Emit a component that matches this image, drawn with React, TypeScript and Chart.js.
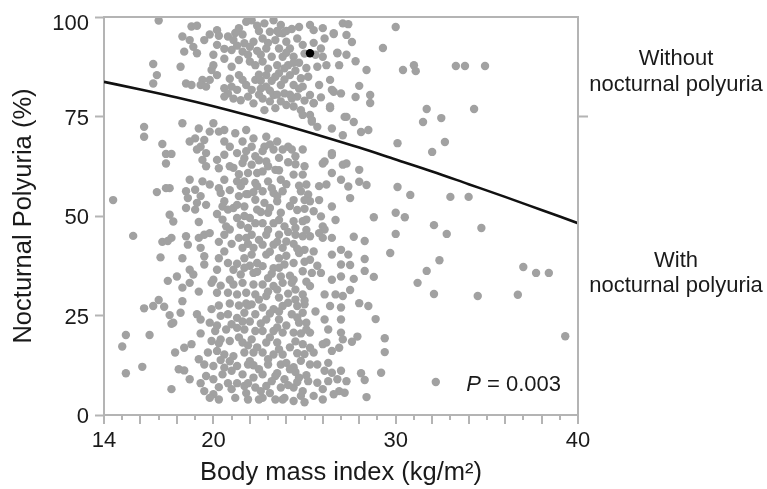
import React, { useEffect, useRef } from "react";
import { Chart, registerables } from "chart.js";

Chart.register(...registerables);

const FONT = "'Liberation Sans', Arial, Helvetica, sans-serif";
const AXIS_COLOR = "#b4b4b4";
const POINT_COLOR = "#a1a1a1";
const TEXT_COLOR = "#1a1a1a";

// Axis ticks
const xTickLabels = [14, 20, 30, 40];
const xMin = 14;
const xMax = 40;
const yTickValues = [0, 25, 50, 75, 100];

// Fitted curve
const curveBmi = [14, 16, 18, 20, 22, 24, 26, 28, 30, 32, 34, 36, 38, 40];
const curvePct = [83.7, 81.8, 79.8, 77.6, 75.2, 72.7, 70.0, 67.2, 64.2, 61.2, 58.0, 54.8, 51.5, 48.2];

// Highlighted (black) patient
const highlighted: [number, number][] = [[25.3, 90.9]];

// Patients: [BMI, nocturnal polyuria %]
const patientsLeft: [number, number][] = [
  [14.5, 54.0], [15.6, 45.0], [15.0, 17.2], [15.2, 20.1], [15.2, 10.5], [16.1, 12.1], [16.2, 26.8], [16.7, 27.4],
  [17.0, 28.9], [17.3, 27.2], [16.5, 20.1], [17.6, 50.3], [17.8, 48.6], [17.2, 43.5], [17.5, 43.7], [17.1, 39.6],
  [17.5, 33.7], [17.6, 25.1], [17.7, 22.9], [17.0, 99.1], [16.7, 88.2], [16.9, 85.4], [16.7, 83.3], [16.2, 72.4],
  [16.2, 69.9], [17.2, 68.1], [17.4, 65.6], [17.7, 65.6], [17.4, 63.2], [16.9, 56.0], [17.4, 57.0], [18.2, 87.5],
  [18.5, 83.3],
];

const patientsUpper: [number, number][] = [
  [18.8, 97.6], [19.1, 97.8], [18.3, 95.1], [18.7, 94.2], [18.9, 92.5], [18.4, 91.3], [19.1, 90.9], [19.5, 94.2],
  [19.8, 95.6], [20.2, 96.7], [20.3, 95.3], [20.2, 93.0], [20.8, 95.1], [21.0, 91.7], [21.1, 94.2], [21.4, 97.2],
  [21.6, 95.6], [21.8, 98.8], [22.1, 99.2], [21.7, 93.4], [22.0, 92.5], [22.2, 93.8], [21.6, 91.3], [21.9, 90.5],
  [21.4, 89.2], [22.0, 88.8], [22.3, 87.9], [20.0, 87.9], [19.9, 86.7], [20.2, 85.4], [19.8, 84.2], [19.4, 84.2],
  [18.8, 82.9], [19.3, 82.9], [19.6, 82.5], [20.6, 82.1], [20.8, 80.8], [20.6, 80.0], [21.4, 85.4], [21.6, 84.2],
  [21.8, 82.9], [21.3, 81.7], [21.9, 80.0], [21.5, 79.1], [21.1, 79.5], [22.1, 81.7], [22.3, 84.2], [22.2, 78.3],
  [22.8, 98.4], [23.3, 99.2], [23.7, 98.0], [23.1, 96.3], [23.8, 95.9], [22.7, 94.6], [23.4, 94.2], [24.0, 93.8],
  [22.9, 92.1], [23.6, 92.1], [24.2, 92.1], [23.2, 90.0], [23.8, 90.0], [22.7, 88.8], [23.5, 87.9], [24.1, 87.9],
  [24.6, 94.6], [24.9, 93.0], [25.3, 98.0], [25.5, 96.7], [26.0, 97.2], [26.1, 94.6], [25.9, 92.1], [25.6, 90.5],
  [26.0, 90.0], [26.2, 87.9], [25.7, 87.5], [26.6, 95.9], [26.8, 90.9], [26.9, 87.9], [27.1, 98.4], [27.3, 95.5],
  [22.9, 85.4], [23.6, 85.9], [24.2, 85.4], [24.8, 84.6], [25.2, 85.0], [22.9, 82.5], [23.7, 82.9], [24.4, 82.9],
  [24.9, 82.5], [23.9, 80.8], [23.3, 80.4], [22.7, 79.5], [24.6, 80.0], [25.3, 80.4], [25.8, 82.9], [26.4, 84.2],
  [26.5, 81.7], [27.0, 80.8], [24.0, 77.9], [23.4, 77.1], [22.8, 76.6], [24.8, 76.6], [25.3, 75.4], [24.9, 75.4],
  [25.5, 78.3], [26.4, 77.5], [25.4, 73.7], [25.7, 72.4], [26.5, 72.0], [27.2, 74.9], [26.6, 95.7], [26.8, 91.0],
  [27.3, 90.5], [27.8, 88.9], [28.4, 86.7], [27.6, 93.7], [27.4, 98.2], [26.4, 77.1], [26.6, 81.2], [27.8, 79.9],
  [28.0, 82.7], [28.6, 80.4], [28.6, 78.4], [28.1, 71.1], [28.5, 71.6], [27.3, 74.9], [27.7, 73.6], [27.1, 70.3],
  [25.4, 74.1], [25.5, 78.4],
  [22.5, 96.5], [22.6, 90.5], [22.5, 85.5], [23.0, 87.0], [23.2, 84.0], [23.9, 87.1], [24.4, 90.0], [24.5, 86.5],
  [24.3, 79.5], [23.6, 96.0], [24.3, 97.0], [22.6, 82.0], [23.1, 78.8], [22.4, 91.5], [21.0, 87.5], [20.6, 89.5],
  [20.9, 84.5], [21.2, 96.0], [24.7, 88.5], [25.0, 90.8], [24.0, 96.5], [23.5, 80.5],
  [23.0, 93.5], [23.5, 96.5], [24.0, 91.0], [24.4, 88.5], [23.4, 85.0], [22.6, 84.0], [24.7, 82.0], [23.9, 84.3],
  [23.1, 81.5], [24.2, 80.5], [22.5, 80.5], [23.7, 78.8], [24.4, 77.5], [25.0, 79.0], [25.9, 79.8], [25.1, 87.2],
  [25.5, 93.5], [24.7, 97.5], [22.4, 97.8], [21.3, 92.8], [20.6, 92.0], [20.0, 90.5], [21.0, 82.5],
];

const patientsRight: [number, number][] = [
  [30.0, 97.5], [29.3, 92.2], [30.4, 86.7], [31.0, 87.9], [31.1, 86.4], [33.3, 87.7], [33.8, 87.7], [34.9, 87.7],
  [31.7, 76.9], [31.5, 73.6], [32.5, 74.6], [34.3, 76.9], [30.1, 68.3], [32.7, 68.6], [32.0, 66.1], [30.1, 57.3],
  [30.8, 55.3], [33.0, 54.8], [34.0, 54.8], [28.0, 61.6], [28.4, 57.8], [28.0, 58.6], [27.4, 57.4], [27.3, 63.2],
  [26.5, 65.3], [26.0, 63.2], [28.8, 49.7], [30.0, 50.8], [30.5, 49.7], [32.1, 47.7], [32.8, 45.5], [34.7, 47.0],
  [30.0, 45.5], [29.7, 40.7], [28.3, 43.7], [28.3, 39.2], [28.3, 36.2], [28.8, 34.7], [27.7, 34.2], [28.0, 28.1],
  [28.5, 27.4], [28.9, 24.1], [29.4, 19.3], [29.4, 15.8], [29.2, 10.6], [28.3, 8.8], [28.4, 4.5], [32.4, 38.9],
  [31.7, 36.2], [31.2, 33.2], [32.1, 30.4], [34.5, 29.9], [32.2, 8.3], [37.0, 37.2], [37.7, 35.7], [38.4, 35.7],
  [36.7, 30.2], [39.3, 19.8], [27.5, 37.7], [27.5, 31.4], [27.6, 18.4], [27.9, 19.7], [28.1, 10.5], [27.7, 44.8],
  [26.7, 49.0],
];

const patientsMiddle: [number, number][] = [
  [18.3, 73.3], [19.2, 72.0], [20.0, 73.3], [19.0, 69.5], [19.5, 69.1], [19.8, 71.2], [20.3, 71.2], [20.6, 71.6],
  [21.2, 70.8], [18.7, 68.7], [19.3, 67.4], [20.6, 68.7], [20.9, 67.4], [21.6, 68.7], [22.2, 69.5], [22.1, 67.4],
  [21.8, 71.6], [22.9, 69.9], [23.5, 68.7], [22.8, 67.4], [24.1, 67.4],
  [19.1, 66.7], [19.6, 65.8], [19.4, 64.1], [20.2, 64.1], [20.6, 65.4], [21.3, 65.8], [21.8, 66.3], [22.3, 65.0],
  [21.6, 63.3], [22.1, 62.9], [21.1, 62.1], [21.9, 60.8], [22.4, 60.8], [21.7, 58.7], [22.3, 58.3], [19.6, 62.5],
  [18.7, 59.1], [19.4, 58.7], [19.8, 57.9], [20.6, 59.1], [21.3, 58.7], [21.5, 57.5], [18.5, 56.2], [19.0, 56.6],
  [18.6, 54.5], [19.1, 53.3], [19.0, 51.6], [18.5, 52.0], [19.6, 52.8], [20.4, 55.8], [20.6, 53.7], [20.5, 52.4],
  [20.8, 51.6], [21.1, 52.0], [21.3, 52.8], [21.7, 52.4], [22.3, 54.1], [22.4, 51.6], [20.5, 49.1], [20.7, 47.4],
  [20.9, 46.6], [21.5, 47.8], [21.9, 47.0], [22.3, 48.2], [22.1, 45.3], [20.6, 45.3], [17.6, 57.0], [18.5, 44.9],
  [18.6, 42.8], [19.2, 44.5], [19.5, 45.3], [19.8, 45.7], [18.3, 39.4], [18.7, 36.5], [18.9, 35.3], [19.5, 39.9],
  [19.5, 37.8], [20.0, 34.0], [20.3, 39.4], [20.6, 41.1], [20.8, 38.2], [21.1, 36.5], [21.6, 42.0], [21.7, 39.4],
  [22.1, 40.3], [22.4, 38.2], [21.5, 35.3], [22.2, 35.7], [18.0, 34.8], [17.7, 44.5],
  [22.7, 66.3], [23.3, 66.7], [23.8, 66.7], [24.3, 66.7], [22.9, 63.7], [23.6, 64.6], [22.7, 61.2], [23.4, 61.6],
  [23.0, 58.7], [23.7, 59.1], [22.7, 56.2], [23.3, 55.8], [23.8, 56.2], [22.8, 53.3], [23.5, 53.7], [23.0, 50.8],
  [23.7, 50.8], [22.7, 48.2], [23.3, 48.2], [23.9, 47.4], [22.9, 45.3], [23.6, 45.3], [22.7, 42.8], [23.3, 42.8],
  [23.8, 42.0], [22.9, 40.3], [23.6, 39.4], [22.7, 37.4], [23.3, 36.9], [23.9, 37.8], [23.0, 34.4], [23.7, 34.8],
  [24.9, 66.7], [26.5, 65.8], [27.1, 62.9], [26.1, 63.7], [26.5, 60.8], [27.0, 59.1], [24.4, 60.4], [24.9, 60.4],
  [25.1, 57.9], [24.8, 56.2], [25.8, 57.5], [26.2, 57.9], [25.3, 53.7], [25.2, 55.4], [26.5, 52.4], [27.5, 54.5],
  [25.5, 51.2], [25.9, 49.9], [26.0, 47.4], [24.4, 48.7], [24.9, 48.7], [25.1, 49.1], [26.1, 46.6], [25.8, 45.7],
  [24.5, 45.3], [24.9, 44.9], [25.3, 44.9], [26.5, 44.5], [26.0, 44.5], [24.0, 43.6], [25.0, 41.5], [24.7, 40.7],
  [25.5, 41.1], [25.3, 39.0], [26.5, 40.3], [27.0, 41.5], [27.4, 40.3], [27.0, 37.8], [24.4, 38.2], [24.9, 36.1],
  [25.4, 35.7], [25.9, 35.7], [26.5, 34.0], [27.0, 34.8],
];

const patientsLower: [number, number][] = [
  [18.3, 32.0], [18.7, 33.2], [19.9, 33.2], [21.1, 32.8], [21.6, 33.2], [22.2, 32.8], [18.3, 28.6], [20.2, 30.7],
  [20.8, 30.7], [21.3, 30.3], [21.8, 30.7], [22.3, 30.3], [18.2, 25.7], [19.1, 25.3], [19.3, 24.0], [19.9, 26.6],
  [20.4, 24.9], [20.8, 25.3], [21.3, 24.4], [21.7, 25.7], [22.3, 25.3], [17.8, 23.2], [19.8, 23.2], [20.1, 21.1],
  [20.7, 21.5], [21.3, 21.9], [21.7, 21.5], [22.3, 21.1], [20.4, 19.0], [20.9, 18.6], [19.9, 18.6], [21.6, 18.2],
  [22.1, 19.0], [18.8, 17.8], [18.4, 16.9], [17.9, 15.7], [19.7, 15.7], [20.2, 16.1], [20.6, 15.2], [21.1, 14.8],
  [21.7, 15.7], [22.2, 15.7], [18.1, 11.5], [18.4, 11.2], [19.5, 12.7], [20.0, 12.3], [20.6, 11.9], [21.3, 12.3],
  [21.9, 12.7], [18.7, 9.0], [19.6, 9.8], [20.0, 9.0], [20.5, 10.2], [21.0, 11.1], [21.6, 10.2], [22.2, 9.4],
  [17.7, 6.5], [19.5, 6.0], [20.0, 5.2], [21.0, 6.5], [21.7, 7.3], [22.3, 6.9], [19.8, 4.3], [20.3, 3.9],
  [21.2, 4.3], [21.9, 3.9], [22.5, 3.9],
  [22.7, 32.8], [23.3, 32.4], [23.8, 33.2], [22.9, 29.9], [23.6, 29.5], [22.7, 27.0], [23.3, 26.6], [23.8, 27.4],
  [22.9, 24.0], [23.6, 24.0], [22.7, 21.1], [23.3, 21.1], [23.8, 20.7], [22.9, 18.2], [23.5, 18.2], [22.7, 15.7],
  [23.3, 15.2], [23.8, 15.2], [23.0, 12.7], [23.7, 12.7], [22.7, 10.2], [23.4, 9.8], [22.9, 7.3], [23.7, 6.9],
  [22.7, 4.3], [23.4, 3.9], [23.9, 4.3],
  [24.3, 33.2], [25.3, 32.4], [24.9, 30.3], [24.1, 28.2], [24.6, 27.4], [25.0, 27.8], [24.3, 25.3], [24.9, 25.7],
  [24.7, 23.2], [25.1, 23.2], [24.4, 20.7], [25.3, 20.7], [26.1, 30.3], [26.7, 30.3], [27.1, 29.9], [26.4, 27.4],
  [27.0, 27.0], [26.1, 24.0], [27.0, 24.0], [26.3, 21.5], [27.0, 20.7], [26.2, 18.2], [27.1, 19.0], [24.9, 17.8],
  [25.3, 16.9], [25.5, 15.7], [26.0, 17.8], [26.5, 16.1], [26.9, 16.9], [24.0, 13.1], [24.8, 13.6], [25.3, 12.7],
  [25.7, 12.7], [24.2, 11.5], [26.3, 13.1], [26.1, 11.1], [26.5, 10.6], [27.0, 11.1], [24.7, 9.4], [23.9, 9.0],
  [25.2, 8.5], [25.7, 8.1], [26.3, 8.5], [26.8, 9.0], [27.3, 8.5], [24.4, 6.9], [24.9, 6.0], [26.0, 6.5],
  [26.9, 6.0], [23.8, 3.9], [24.8, 4.8], [25.5, 4.8], [26.6, 5.2], [27.2, 5.6], [26.0, 3.9],
];

// Densely overlapping core of the cloud
const patientsCore: [number, number][] = [
  [22.5, 64.0], [22.4, 57.5], [22.6, 51.0], [22.5, 44.0], [22.4, 36.0], [22.5, 29.0], [22.6, 23.0], [22.4, 17.0],
  [22.5, 11.5], [22.6, 6.0], [23.1, 68.0], [23.0, 62.5], [23.2, 57.0], [23.1, 52.0], [23.0, 46.5], [23.1, 41.0],
  [23.2, 35.5], [23.0, 31.0], [23.1, 25.5], [23.1, 19.5], [23.0, 14.0], [23.2, 8.5], [23.1, 5.5], [23.6, 61.5],
  [23.5, 55.0], [23.6, 49.0], [23.5, 43.5], [23.6, 37.0], [23.5, 31.5], [23.6, 26.0], [23.5, 22.0], [23.6, 16.5],
  [23.5, 10.5], [24.1, 63.5], [24.0, 58.0], [24.2, 52.5], [24.1, 46.0], [24.0, 40.0], [24.2, 35.0], [24.1, 30.5],
  [24.0, 22.5], [24.2, 17.0], [24.1, 7.5], [21.9, 55.5], [22.0, 49.5], [21.9, 43.0], [22.0, 37.5], [21.9, 27.5],
  [22.0, 23.5], [21.9, 17.5], [22.0, 13.5], [21.9, 8.0], [21.4, 60.5], [21.4, 55.0], [21.3, 49.5], [21.4, 44.5],
  [21.3, 38.0], [21.4, 27.5], [21.4, 19.5], [21.3, 8.0], [20.9, 62.5], [20.9, 56.5], [21.0, 43.0], [20.9, 34.0],
  [20.9, 28.0], [21.0, 22.8], [20.9, 13.5], [20.8, 8.0], [24.5, 63.0], [24.6, 51.5], [24.5, 31.5], [24.6, 15.5],
  [24.5, 10.8], [25.0, 54.0], [24.7, 57.6], [24.4, 43.0], [24.8, 20.5], [25.6, 26.0], [25.7, 37.5], [25.8, 54.0],
  [20.3, 62.0], [20.3, 57.0], [20.2, 50.5], [20.3, 43.5], [20.2, 36.5], [20.4, 32.5], [20.3, 27.5], [20.2, 22.5],
  [20.3, 18.0], [20.4, 13.8], [20.3, 7.0], [21.7, 64.5], [21.8, 55.5], [21.7, 50.0], [21.8, 44.5], [21.7, 37.0],
  [21.8, 28.0], [21.6, 23.5], [21.8, 5.5], [22.2, 56.0], [22.2, 42.0], [22.1, 27.8], [22.2, 12.5], [24.5, 65.0],
  [24.4, 54.0], [24.5, 47.0], [24.6, 41.8], [24.4, 34.0], [24.5, 29.0], [24.6, 24.5], [24.5, 18.5], [24.4, 12.0],
  [24.6, 8.3], [24.4, 3.5], [25.0, 62.5], [25.0, 51.8], [25.1, 46.5], [25.0, 38.5], [25.1, 33.5], [25.0, 28.8],
  [25.1, 21.5], [25.0, 15.3], [25.1, 10.0], [25.0, 3.2], [19.3, 55.0], [19.2, 48.5], [19.3, 42.0], [19.2, 31.0],
  [19.3, 20.5], [19.2, 14.0], [19.3, 8.0],
];

const upperLabel = ["Without", "nocturnal polyuria"];
const lowerLabel = ["With", "nocturnal polyuria"];
const pValueText = "0.003";

const framePlugin = {
  id: "frame",
  afterDraw(chart: any) {
    const { ctx, chartArea: a, scales } = chart;
    const xs = scales.x;
    const ys = scales.y;
    ctx.save();
    ctx.strokeStyle = AXIS_COLOR;
    ctx.lineWidth = 2;
    ctx.beginPath();
    ctx.moveTo(a.left, a.top);
    ctx.lineTo(a.right, a.top);
    ctx.lineTo(a.right, a.bottom);
    const y75 = ys.getPixelForValue(75);
    ctx.moveTo(a.right, y75);
    ctx.lineTo(a.right + 10, y75);
    for (let v = xMin; v <= xMax; v++) {
      const px = Math.round(xs.getPixelForValue(v));
      const len = v % 2 === 0 ? 9 : 5;
      ctx.moveTo(px, a.bottom);
      ctx.lineTo(px, a.bottom + len);
    }
    ctx.stroke();

    ctx.fillStyle = TEXT_COLOR;
    ctx.textBaseline = "alphabetic";

    // tick labels
    ctx.font = `22px ${FONT}`;
    ctx.textAlign = "right";
    yTickValues.forEach((v) => {
      const py = ys.getPixelForValue(v);
      const base = v === 100 ? py + 13 : py + 8;
      ctx.fillText(String(v), 89, base);
    });
    ctx.textAlign = "center";
    xTickLabels.forEach((v) => {
      const px = xs.getPixelForValue(v);
      ctx.fillText(String(v), px, a.bottom + 32);
    });

    ctx.font = `22px ${FONT}`;
    const cx = 676;
    ctx.fillText(upperLabel[0], cx, 65);
    ctx.fillText(upperLabel[1], cx, 91);
    ctx.fillText(lowerLabel[0], cx, 267);
    ctx.fillText(lowerLabel[1], cx, 292);

    // P value
    ctx.textAlign = "left";
    ctx.font = `22px ${FONT}`;
    const rest = " = " + pValueText;
    const restW = ctx.measureText(rest).width;
    ctx.font = `italic 22px ${FONT}`;
    const pW = ctx.measureText("P").width;
    const right = 561;
    const startX = right - restW - pW;
    ctx.fillText("P", startX, 391);
    ctx.font = `22px ${FONT}`;
    ctx.fillText(rest, startX + pW, 391);
    ctx.restore();
  },
};

const toPts = (arr: [number, number][]) => arr.map(([x, y]) => ({ x, y }));

export default function App() {
  const ref = useRef<HTMLCanvasElement | null>(null);
  useEffect(() => {
    if (!ref.current) return;
    const allPatients = [
      ...patientsLeft,
      ...patientsUpper,
      ...patientsMiddle,
      ...patientsLower,
      ...patientsCore,
      ...patientsRight,
    ];
    const chart = new Chart(ref.current, {
      type: "scatter",
      data: {
        datasets: [
          {
            type: "line",
            data: curveBmi.map((x, i) => ({ x, y: curvePct[i] })),
            borderColor: "#111111",
            borderWidth: 2.6,
            pointRadius: 0,
            cubicInterpolationMode: "monotone",
            order: 0,
          } as any,
          {
            data: toPts(highlighted),
            backgroundColor: "#000000",
            borderWidth: 0,
            pointRadius: 4.2,
            order: 1,
          },
          {
            data: toPts(allPatients),
            backgroundColor: POINT_COLOR,
            borderWidth: 0,
            pointRadius: 4.2,
            order: 2,
          },
        ],
      },
      options: {
        responsive: false,
        animation: false,
        devicePixelRatio: 1,
        events: [],
        layout: { padding: { left: 0, top: 17, right: 189, bottom: 0 } },
        plugins: { legend: { display: false }, tooltip: { enabled: false } },
        scales: {
          x: {
            type: "linear",
            min: xMin,
            max: xMax,
            afterFit: (s: any) => {
              s.height = 74;
            },
            grid: { display: false },
            border: { display: true, color: AXIS_COLOR, width: 2 },
            ticks: { display: false, stepSize: 1 },
            title: {
              display: true,
              text: "Body mass index (kg/m²)",
              color: TEXT_COLOR,
              font: { family: FONT, size: 25.5 },
              padding: { top: 0, bottom: 1 },
            },
          },
          y: {
            type: "linear",
            min: 0,
            max: 100,
            afterFit: (s: any) => {
              s.width = 104;
            },
            afterBuildTicks: (s: any) => {
              s.ticks = yTickValues.map((value) => ({ value }));
            },
            grid: {
              display: true,
              drawOnChartArea: false,
              drawTicks: true,
              tickLength: 9,
              tickColor: AXIS_COLOR,
              tickWidth: 2,
              color: AXIS_COLOR,
            },
            border: { display: true, color: AXIS_COLOR, width: 2 },
            ticks: { display: false },
            title: {
              display: true,
              text: "Nocturnal Polyuria (%)",
              color: TEXT_COLOR,
              font: { family: FONT, size: 25.5 },
              padding: { top: 9, bottom: 0 },
            },
          },
        },
      },
      plugins: [framePlugin],
    } as any);
    return () => chart.destroy();
  }, []);
  return (
    <div style={{ position: "absolute", left: 0, top: 0, width: 767, height: 489, background: "#ffffff" }}>
      <canvas ref={ref} width={767} height={489} style={{ display: "block", width: 767, height: 489 }} />
    </div>
  );
}
